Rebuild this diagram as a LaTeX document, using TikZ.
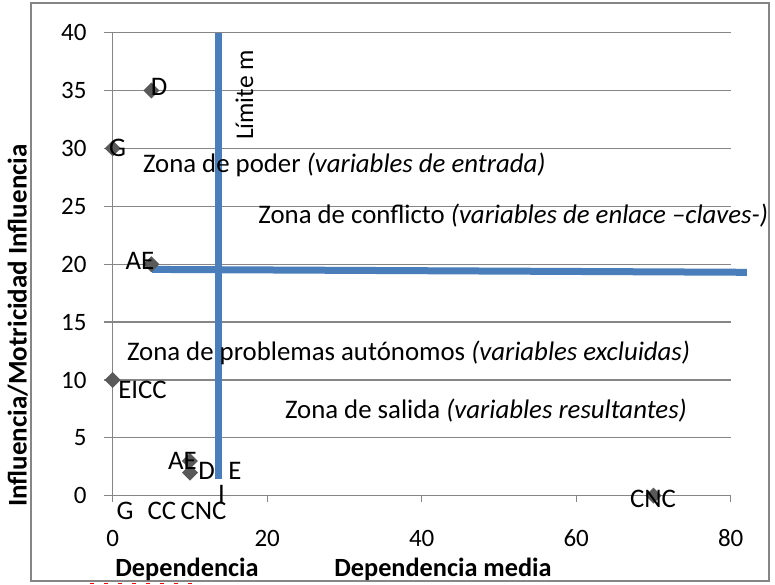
\documentclass[tikz,border=0pt]{standalone}
\usepackage{fontspec}
\setmainfont{Carlito}
\usetikzlibrary{shapes.geometric}
\definecolor{gridc}{RGB}{134,134,134}
\definecolor{limc}{RGB}{74,126,187}
\definecolor{markc}{RGB}{89,89,89}
\begin{document}
\begin{tikzpicture}[x=1pt,y=-1pt,
  every node/.style={font=\fontsize{26.8}{32}\selectfont, inner sep=0pt, outer sep=0pt},
  gridline/.style={draw=gridc, line width=1.3pt},
  limline/.style={draw=limc, line width=7pt},
  mk/.style={diamond, fill=markc, minimum width=16pt, minimum height=16pt, inner sep=0pt},
  ylab/.style={anchor=east, font=\fontsize{25}{30}\selectfont},
  xlab/.style={anchor=center, font=\fontsize{25}{30}\selectfont},
  axtitle/.style={font=\fontsize{26.3}{31}\selectfont\bfseries}]
\useasboundingbox[fill=white] (0,0) rectangle (775,585);
% frame
\draw[gridline] (31,3) rectangle (769,581);
% plot in data coordinates
\begin{scope}[shift={(112.7,495.7)}, x=7.725pt, y=11.575pt]
  \foreach \v in {5,10,...,40} \draw[gridline] (-1.1,\v) -- (80,\v);
  \draw[gridline] (-1.1,0) -- (80,0);
  \foreach \v in {0,20,...,80} \draw[gridline] (\v,0) -- (\v,-0.55);
  \draw[gridline] (0,40) -- (0,0);
  % limit lines
  \coordinate (vtop) at (13.7,40);
  \coordinate (vbot) at (13.7,1.45);
  \coordinate (hleft) at (5.1,19.55);
  \coordinate (hright) at (82.1,19.3);
  \draw[limline] (vtop) -- (vbot);
  \draw[limline] (hleft) -- (hright);
  % markers
  \node[mk] (pD) at (5,35) {};
  \node[mk] (pG) at (0,30) {};
  \node[mk] (pAE) at (5,20) {};
  \node[mk] (pEICC) at (0,10) {};
  \node[mk] (pAE2) at (10,3) {};
  \node[mk] (pD2) at (10,2) {};
  \node[mk] (pCNC) at (70,0) {};
\end{scope}
% y tick labels
\node[ylab] (y40) at (86.5,32.7) {40};
\node[ylab] (y35) at (86.5,90.6) {35};
\node[ylab] (y30) at (86.5,148.5) {30};
\node[ylab] (y25) at (86.5,206.3) {25};
\node[ylab] (y20) at (86.5,264.2) {20};
\node[ylab] (y15) at (86.5,322.1) {15};
\node[ylab] (y10) at (86.5,380.0) {10};
\node[ylab] (y5) at (86.5,437.8) {5};
\node[ylab] (y0) at (86.5,495.7) {0};
% x tick labels
\node[xlab] (x0) at (112.7,538) {0};
\node[xlab] (x20) at (267.2,538) {20};
\node[xlab] (x40) at (421.7,538) {40};
\node[xlab] (x60) at (576.2,538) {60};
\node[xlab] (x80) at (730.7,538) {80};
% point labels
\node (lD) at (159,86.5) {D};
\node (lG) at (117.5,147.5) {G};
\node (lAE) at (140,261) {AE};
\node (lEICC) at (142.5,390) {EICC};
\node (lAE2) at (182.5,461) {AE};
\node (lD2) at (206.7,471) {D};
\node (lE) at (235,471) {E};
\node (lI) at (221.5,494) {I};
\node (lG2) at (125,511) {G};
\node (lCC) at (162,511) {CC};
\node (lCNC) at (203.5,511) {CNC};
\node (lCNC2) at (653,499) {CNC};
% zone texts
\node[anchor=base west] (zpoder) at (143,173) {Zona de poder \textit{(variables de entrada)}};
\node[anchor=base east] (zconf) at (768,223) {Zona de conflicto \textit{(variables de enlace –claves-)}};
\node[anchor=base west] (zauto) at (127,360) {Zona de problemas autónomos \textit{(variables excluidas)}};
\node[anchor=base west] (zsal) at (285,418) {Zona de salida \textit{(variables resultantes)}};
\node[anchor=base west, rotate=90, font=\fontsize{25.5}{30}\selectfont] (limite) at (253,140) {Límite m};
% axis titles
\node[axtitle, anchor=base] (xt1) at (187,576) {Dependencia};
\node[axtitle, anchor=base] (xt2) at (443,576) {Dependencia media};
\node[axtitle, anchor=base, rotate=90, font=\fontsize{27}{32}\selectfont\bfseries] (yt) at (26.7,325.5) {Influencia/Motricidad Influencia};
% spelling marks
\draw[red, line width=1.2pt, dash pattern=on 4pt off 10pt] (90,583.8) -- (200,583.8);
\end{tikzpicture}
\end{document}
